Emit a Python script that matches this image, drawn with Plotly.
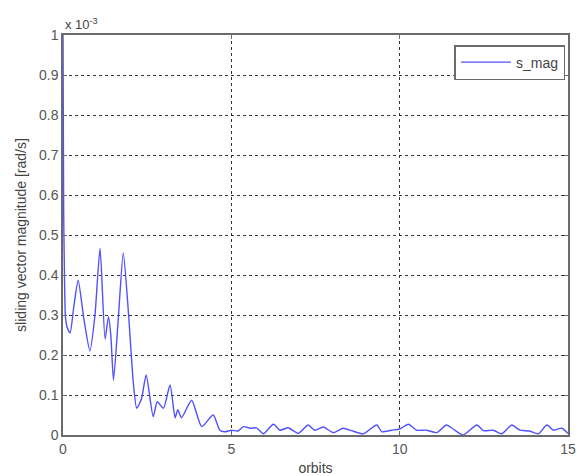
import plotly.graph_objects as go

# orbits (x) and sliding vector magnitude in units of 1e-3 rad/s (y)
orbits = [0.0, 0.02, 0.04, 0.07, 0.12, 0.21, 0.32, 0.45, 0.62, 0.80, 0.95, 1.10, 1.25, 1.35, 1.42, 1.50,
          1.65, 1.79, 1.94, 2.09, 2.19, 2.33, 2.47, 2.68, 2.80, 2.98, 3.18, 3.33, 3.41, 3.52, 3.82,
          4.12, 4.46, 4.66, 4.80, 5.00, 5.20, 5.36, 5.56, 5.75, 5.95, 6.25, 6.44, 6.69, 6.99, 7.28,
          7.48, 7.73, 8.03, 8.32, 8.57, 8.92, 9.32, 9.47, 9.76, 10.0, 10.26, 10.5, 10.8, 11.1,
          11.39, 11.59, 11.89, 12.29, 12.49, 12.78, 13.03, 13.33, 13.57, 13.85, 14.12, 14.37,
          14.57, 14.82, 15.0]
s_mag = [1.0, 0.56, 0.42, 0.30, 0.27, 0.255, 0.32, 0.387, 0.29, 0.21, 0.30, 0.467, 0.24, 0.296, 0.25, 0.137,
         0.30, 0.455, 0.31, 0.13, 0.067, 0.09, 0.15, 0.046, 0.083, 0.067, 0.125, 0.043, 0.063, 0.043, 0.087,
         0.021, 0.05, 0.012, 0.008, 0.012, 0.01, 0.021, 0.017, 0.018, 0.003, 0.027, 0.012, 0.018, 0.004, 0.025,
         0.012, 0.02, 0.006, 0.017, 0.011, 0.003, 0.025, 0.008, 0.012, 0.015, 0.027, 0.012, 0.012, 0.006,
         0.025, 0.015, 0.0, 0.025, 0.011, 0.012, 0.003, 0.025, 0.012, 0.01, 0.003, 0.025,
         0.012, 0.017, 0.004]

x_ticks = [0, 5, 10, 15]
y_ticks = [0, 0.1, 0.2, 0.3, 0.4, 0.5, 0.6, 0.7, 0.8, 0.9, 1]
y_ticktext = ["0", "0.1", "0.2", "0.3", "0.4", "0.5", "0.6", "0.7", "0.8", "0.9", "1"]

font_family = "Liberation Sans, Arial, sans-serif"
tick_color = "#555555"

fig = go.Figure()
fig.add_trace(go.Scatter(x=orbits, y=s_mag, mode="lines", name="s_mag",
                         line=dict(color="#5050ff", width=1.4, shape="spline", smoothing=0.6)))

axis_common = dict(showline=True, linecolor="#6b6b6b", linewidth=1.5, mirror="ticks",
                   ticks="inside", ticklen=4, tickcolor="#6b6b6b",
                   showgrid=True, gridcolor="#333333", griddash="dot", gridwidth=1,
                   zeroline=False, tickfont=dict(size=14, color=tick_color, family=font_family))

fig.update_xaxes(range=[0, 15], tickvals=x_ticks, title=dict(text="orbits", standoff=10,
                 font=dict(size=14, color="#444444", family=font_family)), **axis_common)
fig.update_yaxes(range=[0, 1], tickvals=y_ticks, ticktext=y_ticktext,
                 title=dict(text="sliding vector magnitude [rad/s]", standoff=9,
                            font=dict(size=14, color="#444444", family=font_family)), **axis_common)

fig.add_annotation(text="x 10<sup>-3</sup>", xref="paper", yref="paper", x=0, y=1.0,
                   xanchor="left", yanchor="bottom", showarrow=False, yshift=1,
                   font=dict(size=13, color="#444444", family=font_family))

fig.update_layout(width=580, height=476, margin=dict(l=63, r=12, t=35, b=41, autoexpand=False),
                  paper_bgcolor="white", plot_bgcolor="white",
                  showlegend=True,
                  legend=dict(x=0.995, y=0.975, xanchor="right", yanchor="top",
                              bgcolor="white", bordercolor="#6b6b6b", borderwidth=1.5,
                              itemwidth=50,
                              font=dict(size=14, color="#444444", family=font_family)))

fig.write_html("out.html")
